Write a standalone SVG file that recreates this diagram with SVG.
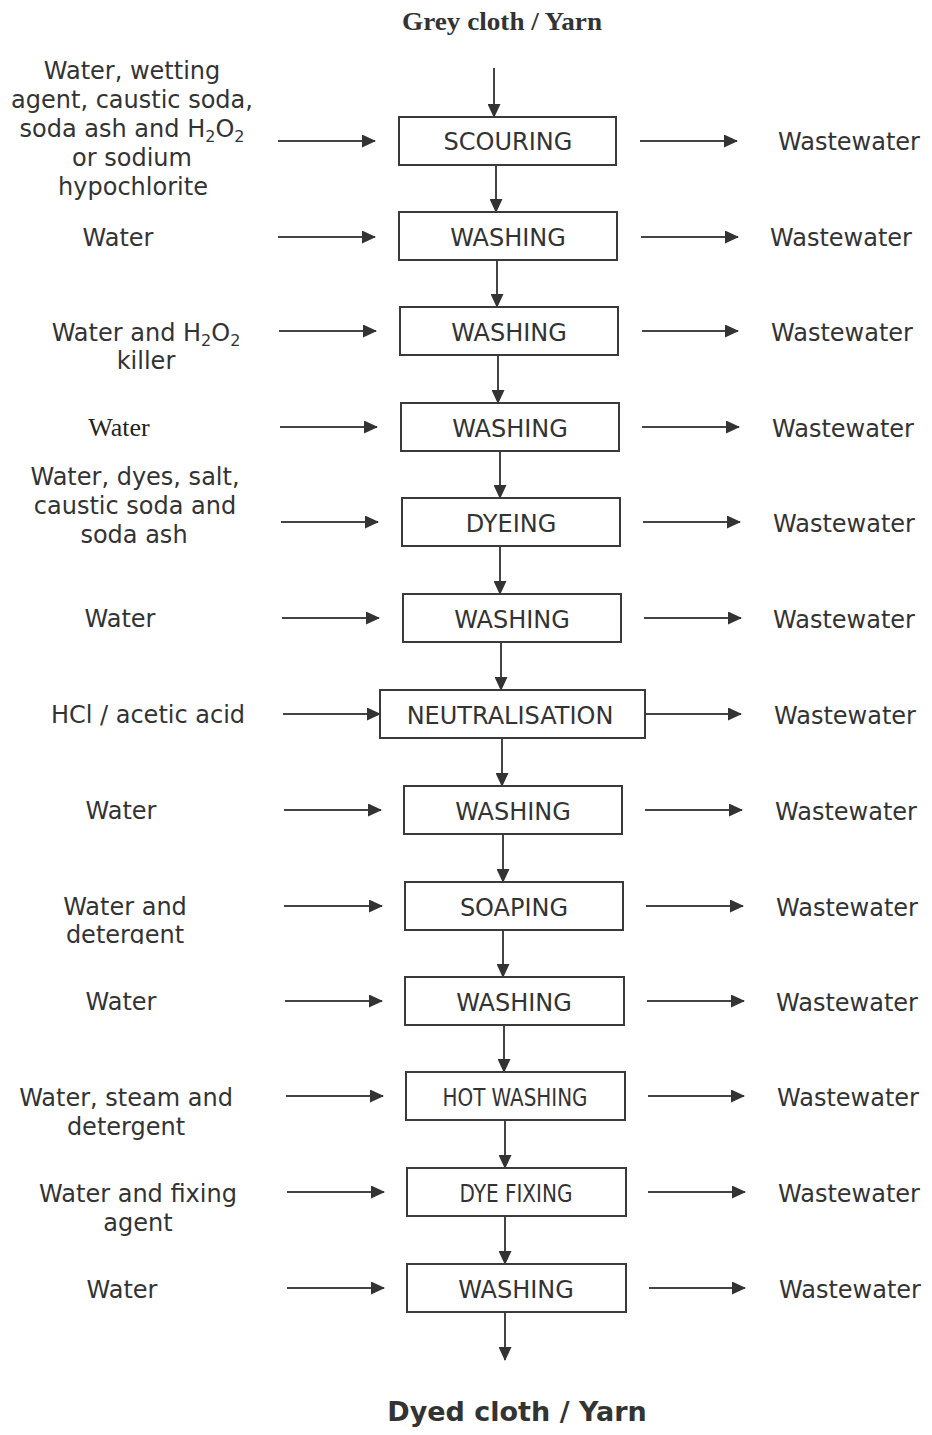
<svg xmlns="http://www.w3.org/2000/svg" width="932" height="1435" viewBox="0 0 932 1435">
<style>
.t{font-family:"DejaVu Sans",Verdana,sans-serif;font-size:24px;fill:#333}
.c{text-anchor:middle}
.b{fill:#fff;stroke:#3a3a3a;stroke-width:2}
.l{stroke:#444;stroke-width:2;fill:none;marker-end:url(#ah)}
.n{font-family:"DejaVu Sans Condensed","DejaVu Sans",sans-serif;font-size:24px;fill:#333;text-anchor:middle}
.s{font-size:16px}
</style>
<defs>
<marker id="ah" markerUnits="userSpaceOnUse" markerWidth="14" markerHeight="13" refX="13" refY="6.5" orient="auto">
<path d="M0,0 L14,6.5 L0,13 z" fill="#333"/>
</marker>
<clipPath id="cl"><rect x="0" y="880" width="300" height="64"/></clipPath>
</defs>
<rect width="932" height="1435" fill="#fff"/>
<g id="title-top"><text x="502" y="30" style="font-family:'Liberation Serif','Times New Roman',serif;font-size:25px;font-weight:bold;fill:#333" text-anchor="middle" textLength="200" lengthAdjust="spacingAndGlyphs">Grey cloth / Yarn</text></g>
<g id="title-bottom"><text x="517" y="1421" style="font-family:'DejaVu Sans',Verdana,sans-serif;font-size:27px;font-weight:bold;fill:#333" text-anchor="middle">Dyed cloth / Yarn</text></g>

<g id="connectors">
<line class="l" x1="494" y1="68" x2="494" y2="117"/>
<line class="l" x1="496" y1="165" x2="496" y2="212"/>
<line class="l" x1="497" y1="260" x2="497" y2="307"/>
<line class="l" x1="498" y1="355" x2="498" y2="403"/>
<line class="l" x1="500" y1="451" x2="500" y2="498"/>
<line class="l" x1="500" y1="546" x2="500" y2="594"/>
<line class="l" x1="501" y1="642" x2="501" y2="690"/>
<line class="l" x1="502" y1="738" x2="502" y2="786"/>
<line class="l" x1="503" y1="834" x2="503" y2="882"/>
<line class="l" x1="503" y1="930" x2="503" y2="977"/>
<line class="l" x1="504" y1="1025" x2="504" y2="1072"/>
<line class="l" x1="505" y1="1120" x2="505" y2="1168"/>
<line class="l" x1="505" y1="1216" x2="505" y2="1264"/>
<line class="l" x1="505" y1="1312" x2="505" y2="1360"/>
<line class="l" x1="278" y1="141" x2="375" y2="141"/>
<line class="l" x1="278" y1="237" x2="375" y2="237"/>
<line class="l" x1="279" y1="331" x2="376" y2="331"/>
<line class="l" x1="280" y1="427" x2="377" y2="427"/>
<line class="l" x1="281" y1="522" x2="378" y2="522"/>
<line class="l" x1="282" y1="618" x2="379" y2="618"/>
<line class="l" x1="283" y1="714" x2="380" y2="714"/>
<line class="l" x1="284" y1="810" x2="381" y2="810"/>
<line class="l" x1="284" y1="906" x2="382" y2="906"/>
<line class="l" x1="285" y1="1001" x2="382" y2="1001"/>
<line class="l" x1="286" y1="1096" x2="383" y2="1096"/>
<line class="l" x1="287" y1="1192" x2="384" y2="1192"/>
<line class="l" x1="287" y1="1288" x2="384" y2="1288"/>
<line class="l" x1="640" y1="141" x2="737" y2="141"/>
<line class="l" x1="641" y1="237" x2="738" y2="237"/>
<line class="l" x1="642" y1="331" x2="738" y2="331"/>
<line class="l" x1="642" y1="427" x2="739" y2="427"/>
<line class="l" x1="643" y1="522" x2="740" y2="522"/>
<line class="l" x1="644" y1="618" x2="741" y2="618"/>
<line class="l" x1="645" y1="714" x2="741" y2="714"/>
<line class="l" x1="645" y1="810" x2="742" y2="810"/>
<line class="l" x1="646" y1="906" x2="743" y2="906"/>
<line class="l" x1="647" y1="1001" x2="744" y2="1001"/>
<line class="l" x1="648" y1="1096" x2="744" y2="1096"/>
<line class="l" x1="648" y1="1192" x2="745" y2="1192"/>
<line class="l" x1="649" y1="1288" x2="745" y2="1288"/>
</g>

<g id="scouring"><rect class="b" x="399" y="117" width="217" height="48"/><text class="t c" x="508" y="150">SCOURING</text></g>
<g id="washing1"><rect class="b" x="399" y="212" width="218" height="48"/><text class="t c" x="508" y="246">WASHING</text></g>
<g id="washing2"><rect class="b" x="400" y="307" width="218" height="48"/><text class="t c" x="509" y="341">WASHING</text></g>
<g id="washing3"><rect class="b" x="401" y="403" width="218" height="48"/><text class="t c" x="510" y="437">WASHING</text></g>
<g id="dyeing"><rect class="b" x="402" y="498" width="218" height="48"/><text class="t c" x="511" y="532">DYEING</text></g>
<g id="washing4"><rect class="b" x="403" y="594" width="218" height="48"/><text class="t c" x="512" y="628">WASHING</text></g>
<g id="neutralisation"><rect class="b" x="380" y="690" width="265" height="48"/><text class="t c" x="510" y="724">NEUTRALISATION</text></g>
<g id="washing5"><rect class="b" x="404" y="786" width="218" height="48"/><text class="t c" x="513" y="820">WASHING</text></g>
<g id="soaping"><rect class="b" x="405" y="882" width="218" height="48"/><text class="t c" x="514" y="916">SOAPING</text></g>
<g id="washing6"><rect class="b" x="405" y="977" width="219" height="48"/><text class="t c" x="514" y="1011">WASHING</text></g>
<g id="hotwashing"><rect class="b" x="406" y="1072" width="219" height="48"/><text class="n" x="515" y="1106" textLength="145" lengthAdjust="spacingAndGlyphs">HOT WASHING</text></g>
<g id="dyefixing"><rect class="b" x="407" y="1168" width="219" height="48"/><text class="n" x="516" y="1202" textLength="113" lengthAdjust="spacingAndGlyphs">DYE FIXING</text></g>
<g id="washing7"><rect class="b" x="407" y="1264" width="219" height="48"/><text class="t c" x="516" y="1298">WASHING</text></g>

<g id="inputs">
<text class="t c" x="132"><tspan x="132" y="79">Water, wetting</tspan><tspan x="132" y="108">agent, caustic soda,</tspan><tspan x="132" y="137">soda ash and H<tspan class="s" dy="5">2</tspan><tspan dy="-5">O</tspan><tspan class="s" dy="5">2</tspan></tspan><tspan x="132" y="166">or sodium</tspan><tspan x="133" y="195">hypochlorite</tspan></text>
<text class="t c" x="118" y="246">Water</text>
<text class="t c" x="146"><tspan x="146" y="341">Water and H<tspan class="s" dy="5">2</tspan><tspan dy="-5">O</tspan><tspan class="s" dy="5">2</tspan></tspan><tspan x="146" y="369">killer</tspan></text>
<text x="119" y="436" text-anchor="middle" style="font-family:'Liberation Serif','Times New Roman',serif;font-size:26px;fill:#222">Water</text>
<text class="t c"><tspan x="135" y="485">Water, dyes, salt,</tspan><tspan x="135" y="514">caustic soda and</tspan><tspan x="134" y="543">soda ash</tspan></text>
<text class="t c" x="120" y="627">Water</text>
<text class="t c" x="148" y="723">HCl / acetic acid</text>
<text class="t c" x="121" y="819">Water</text>
<text class="t c" clip-path="url(#cl)"><tspan x="125" y="915">Water and</tspan><tspan x="125" y="943">detergent</tspan></text>
<text class="t c" x="121" y="1010">Water</text>
<text class="t c"><tspan x="126" y="1106">Water, steam and</tspan><tspan x="126" y="1135">detergent</tspan></text>
<text class="t c"><tspan x="138" y="1202">Water and fixing</tspan><tspan x="138" y="1231">agent</tspan></text>
<text class="t c" x="122" y="1298">Water</text>
</g>

<g id="outputs">
<text class="t" x="778" y="150">Wastewater</text>
<text class="t" x="770" y="246">Wastewater</text>
<text class="t" x="771" y="341">Wastewater</text>
<text class="t" x="772" y="437">Wastewater</text>
<text class="t" x="773" y="532">Wastewater</text>
<text class="t" x="773" y="628">Wastewater</text>
<text class="t" x="774" y="724">Wastewater</text>
<text class="t" x="775" y="820">Wastewater</text>
<text class="t" x="776" y="916">Wastewater</text>
<text class="t" x="776" y="1011">Wastewater</text>
<text class="t" x="777" y="1106">Wastewater</text>
<text class="t" x="778" y="1202">Wastewater</text>
<text class="t" x="779" y="1298">Wastewater</text>
</g>
</svg>
